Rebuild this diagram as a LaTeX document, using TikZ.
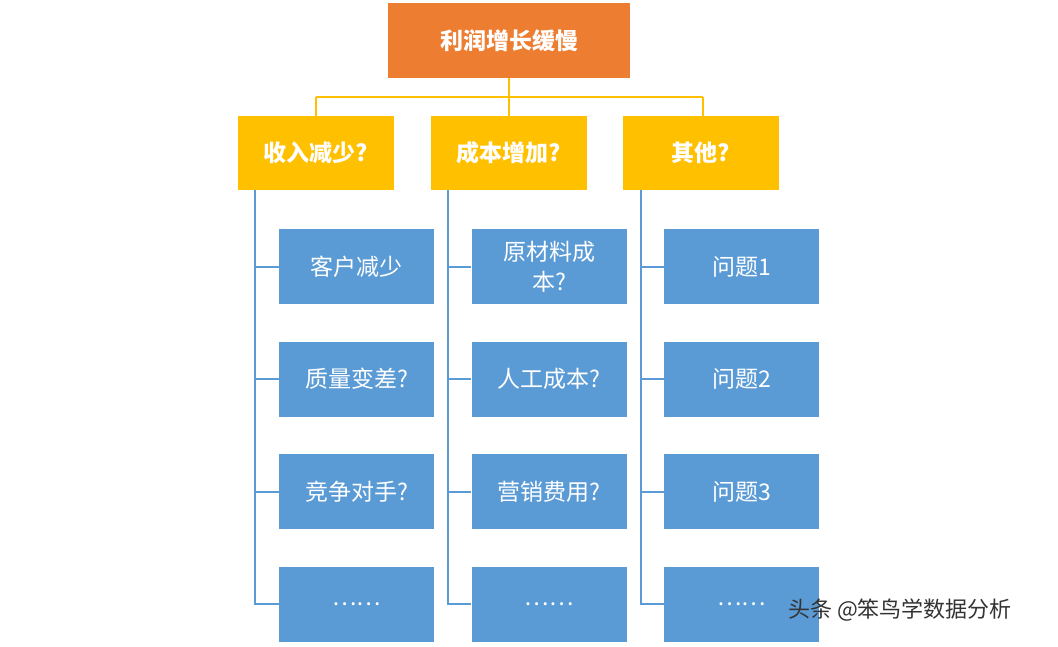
\documentclass[tikz,border=0pt]{standalone}
\usepackage{fontspec}
\newfontfamily\cjk{Noto Sans CJK SC}
\begin{document}
\begin{tikzpicture}[x=1pt,y=-1pt,
  top/.style={draw=none,text=white,font=\cjk\bfseries\fontsize{23}{28}\selectfont,minimum width=242pt,minimum height=75pt,inner sep=0pt},
  cat/.style={fill={rgb,255:red,255;green,192;blue,0},text=white,font=\cjk\bfseries\fontsize{23}{28}\selectfont,minimum width=156pt,minimum height=74pt,inner sep=0pt},
  leaf/.style={fill={rgb,255:red,91;green,155;blue,213},text=white,font=\cjk\fontsize{23}{30}\selectfont,minimum width=155pt,minimum height=75pt,inner sep=2pt,align=center,text width=150pt},
  gline/.style={draw={rgb,255:red,255;green,192;blue,0},line width=2pt},
  bline/.style={draw={rgb,255:red,91;green,155;blue,213},line width=2pt}]
\useasboundingbox[fill=white] (0,0) rectangle (1058,646);
\node[top,fill={rgb,255:red,237;green,125;blue,49}] (t) at (509,40.5) {利润增长缓慢};
\node[cat] (c1) at (316,153) {收入减少?};
\node[cat] (c2) at (509,153) {成本增加?};
\node[cat] (c3) at (701,153) {其他?};
\coordinate (j) at (509,97);
\coordinate (jl) at (316,97);
\coordinate (jr) at (703,97);
\draw[gline] (t.south) -- (j);
\draw[gline] (jl) -- (jr);
\draw[gline] (jl) -- (c1.north);
\draw[gline] (j) -- (c2.north);
\draw[gline] (jr) -- (c3.north -| jr);
\foreach \c/\lx/\bx/\a/\b/\cc/\d in {
  1/255/356.5/客户减少/质量变差?/竞争对手?/……,
  2/448/549/{原材料成\\本?}/人工成本?/营销费用?/……,
  3/641/741.5/问题1/问题2/问题3/……}{
  \node[leaf] (l\c a) at (\bx,266.5) {\a};
  \node[leaf] (l\c b) at (\bx,379) {\b};
  \node[leaf] (l\c c) at (\bx,491.5) {\cc};
  \node[leaf] (l\c d) at (\bx,604) {\d};
  \coordinate (s\c) at (\lx,190);
  \coordinate (e\c) at (\lx,605);
  \draw[bline] (s\c) -- (e\c);
  \foreach \k in {a,b,c,d}{\draw[bline] (l\c\k.west -| s\c) -- (l\c\k.west);}
}
\node[font=\cjk\fontsize{22}{26}\selectfont,text=black!80] (wm) at (900,610) {头条 @笨鸟学数据分析};
\end{tikzpicture}
\end{document}
